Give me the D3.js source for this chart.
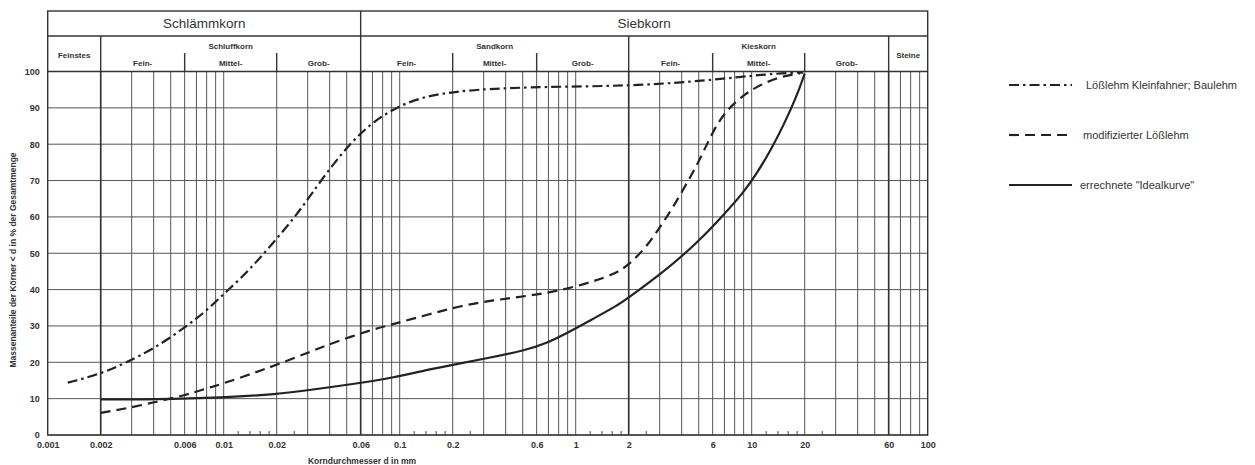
<!DOCTYPE html>
<html lang="de">
<head>
<meta charset="UTF-8" />
<script src="https://d3js.org/d3.v7.min.js"></script>
<style>
  body { margin: 0; background: #fff; }
  svg { display: block; font-family: "Liberation Sans", Arial, sans-serif; }
  .grid { stroke: #555; stroke-width: 1; }
  .frame { stroke: #333; stroke-width: 1.4; fill: none; }
  .hd { fill: #333; font-weight: bold; font-size: 8px; text-anchor: middle; }
  .tick text { fill: #333; font-weight: bold; font-size: 9px; }
  .curve { fill: none; stroke: #222; stroke-width: 2.2; }
</style>
</head>
<body>
<svg id="chart" width="1255" height="465"></svg>
<script>
// Kornverteilung: Durchmesser in mm, Durchgang in %
const lossD = [0.0013, 0.002, 0.00275, 0.004, 0.006, 0.008, 0.01, 0.0124, 0.0157, 0.0204, 0.026, 0.0316,
  0.0411, 0.0534, 0.0708, 0.098, 0.142, 0.206, 0.305, 0.652, 1.95, 4.63, 8.2, 13.9, 19.6];
const lossP = [14.4, 16.8, 19.8, 23.7, 29.5, 34.2, 38.8, 42.9, 48.1, 54.5, 60.6, 66.4,
  74.0, 80.7, 86.2, 90.5, 93.3, 94.4, 95.2, 95.8, 96.0, 97.2, 98.4, 99.5, 99.7];

const modD = [0.002, 0.0028, 0.0042, 0.0059, 0.008, 0.01, 0.0147, 0.02, 0.031, 0.04, 0.068, 0.092, 0.142,
  0.22, 0.34, 0.527, 0.815, 1.26, 1.7, 2.0, 2.5, 3.0, 3.59, 4.27, 5.08, 6.05, 7.21, 8.96, 11.1, 14.5, 18.8];
const modP = [6.1, 7.3, 9.2, 10.8, 12.8, 14.2, 17.0, 19.3, 22.9, 25.0, 28.9, 30.5, 33.0,
  35.5, 37.1, 38.2, 39.7, 42.2, 44.5, 46.8, 51.5, 57.0, 62.8, 69.2, 75.7, 83.9, 89.4, 93.5, 96.3, 98.6, 99.5];

const idealD = [0.002, 0.004, 0.01, 0.02, 0.031, 0.06, 0.092, 0.142, 0.2, 0.313, 0.527, 0.68, 0.89, 1.26,
  1.68, 2.0, 3.15, 4.09, 5.31, 6.9, 8.96, 10.67, 12.7, 15.1, 18, 20];
const idealP = [9.8, 9.8, 10.3, 11.2, 12.4, 14.3, 15.8, 17.9, 19.3, 21.1, 23.4, 25.2, 28.0, 32.0,
  35.3, 37.8, 44.9, 49.5, 54.6, 60.5, 66.6, 71.9, 78.0, 85.0, 93.1, 99.4];

const seriesNames = ["Lößlehm Kleinfahner; Baulehm", "modifizierter Lößlehm", 'errechnete "Idealkurve"'];
const seriesDash = ["10,4,2.5,4", "10,6", null];

const xTickLabels = [0.001, 0.002, 0.006, 0.01, 0.02, 0.06, 0.1, 0.2, 0.6, 1, 2, 6, 10, 20, 60, 100];
const yTicks = [0, 10, 20, 30, 40, 50, 60, 70, 80, 90, 100];
const smallTicks = [0.012, 0.014, 0.016, 0.018, 0.025, 0.12, 0.14, 0.16, 0.18, 0.25,
  1.2, 1.4, 1.6, 1.8, 2.5, 12, 14, 16, 18, 25];

// Kopfzeile: Gruppen und Untergruppen (Grenzen in mm)
const topGroups = [["Schlämmkorn", 0.001, 0.06], ["Siebkorn", 0.06, 100]];
const midGroups = [["Feinstes", 0.001, 0.002], ["Schluffkorn", 0.002, 0.06], ["Sandkorn", 0.06, 2],
  ["Kieskorn", 2, 60], ["Steine", 60, 100]];
const subGroups = [["Fein-", 0.002, 0.006], ["Mittel-", 0.006, 0.02], ["Grob-", 0.02, 0.06],
  ["Fein-", 0.06, 0.2], ["Mittel-", 0.2, 0.6], ["Grob-", 0.6, 2],
  ["Fein-", 2, 6], ["Mittel-", 6, 20], ["Grob-", 20, 60]];

const svg = d3.select("#chart");
const x = d3.scaleLog().domain([0.001, 100]).range([47.7, 927.7]);
const y = d3.scaleLinear().domain([0, 100]).range([435, 71.5]);
const headTop = 11, headMid = 36, headSub = 53;

// vertikale Gitterlinien 1..9 je Dekade
const gridX = [];
for (let e = -3; e <= 1; e++) {
  for (let k = 1; k <= 9; k++) gridX.push(k * Math.pow(10, e));
}
gridX.push(100);

svg.append("g").selectAll("line")
  .data(gridX.filter(d => d > 0.0011 && d < 99))
  .join("line").attr("class", "grid")
  .attr("x1", d => x(d)).attr("x2", d => x(d))
  .attr("y1", y(100)).attr("y2", y(0));

svg.append("g").selectAll("line")
  .data(yTicks)
  .join("line").attr("class", "grid")
  .attr("x1", x(0.001)).attr("x2", x(100))
  .attr("y1", d => y(d)).attr("y2", d => y(d));

// Grenzen dicker
svg.append("g").selectAll("line")
  .data([0.002, 0.06, 2, 60])
  .join("line").attr("stroke", "#333").attr("stroke-width", 1.6)
  .attr("x1", d => x(d)).attr("x2", d => x(d))
  .attr("y1", y(100)).attr("y2", y(0));

// kleine Striche an der x-Achse
svg.append("g").attr("transform", `translate(0,${y(0)})`)
  .call(d3.axisBottom(x).tickValues(smallTicks).tickSize(-4).tickFormat(""))
  .call(g => g.select(".domain").remove())
  .call(g => g.selectAll(".tick line").attr("stroke", "#444"));

svg.append("g").attr("transform", `translate(0,${y(0)})`)
  .call(d3.axisBottom(x).tickValues(xTickLabels).tickSize(0).tickPadding(7).tickFormat(d => String(d)))
  .call(g => g.select(".domain").remove());

svg.append("g").attr("transform", `translate(${x(0.001)},0)`)
  .call(d3.axisLeft(y).tickValues(yTicks).tickSize(0).tickPadding(8))
  .call(g => g.select(".domain").remove());

// Kopf
const head = svg.append("g");
head.append("rect").attr("class", "frame")
  .attr("x", x(0.001)).attr("y", headTop)
  .attr("width", x(100) - x(0.001)).attr("height", y(0) - headTop);
head.append("line").attr("class", "frame")
  .attr("x1", x(0.001)).attr("x2", x(100)).attr("y1", headMid).attr("y2", headMid);
head.append("line").attr("class", "frame")
  .attr("x1", x(0.001)).attr("x2", x(100)).attr("y1", y(100)).attr("y2", y(100));
head.append("line").attr("class", "frame")
  .attr("x1", x(0.06)).attr("x2", x(0.06)).attr("y1", headTop).attr("y2", headMid);
head.selectAll("line.mid")
  .data([0.002, 0.06, 2, 60])
  .join("line").attr("class", "frame mid")
  .attr("x1", d => x(d)).attr("x2", d => x(d)).attr("y1", headMid).attr("y2", y(100));
head.selectAll("line.sub")
  .data([0.006, 0.02, 0.2, 0.6, 6, 20])
  .join("line").attr("class", "frame sub").attr("stroke-width", 1)
  .attr("x1", d => x(d)).attr("x2", d => x(d)).attr("y1", headSub).attr("y2", y(100));

head.selectAll("text.top")
  .data(topGroups)
  .join("text").attr("class", "top")
  .attr("x", d => (x(d[1]) + x(d[2])) / 2).attr("y", 28)
  .attr("text-anchor", "middle").attr("fill", "#333").attr("font-size", 13.5)
  .text(d => d[0]);

head.selectAll("text.mid")
  .data(midGroups)
  .join("text").attr("class", "hd mid")
  .attr("x", d => (x(d[1]) + x(d[2])) / 2)
  .attr("y", d => (d[0] === "Feinstes" || d[0] === "Steine") ? 57.5 : 48.5)
  .text(d => d[0]);

head.selectAll("text.sub")
  .data(subGroups)
  .join("text").attr("class", "hd sub")
  .attr("x", d => (x(d[1]) + x(d[2])) / 2).attr("y", 66)
  .text(d => d[0]);

// Kurven
const line = d3.line().curve(d3.curveBasis);
const series = [[lossD, lossP], [modD, modP], [idealD, idealP]];
svg.append("g").selectAll("path")
  .data(series)
  .join("path").attr("class", "curve")
  .attr("stroke-dasharray", (d, i) => seriesDash[i])
  .attr("d", d => line(d[0].map((v, j) => [x(v), y(d[1][j])])));

// Achsentitel
svg.append("text")
  .attr("x", 362).attr("y", 463.5).attr("text-anchor", "middle")
  .attr("font-size", 8.5).attr("font-weight", "bold").attr("fill", "#333")
  .text("Korndurchmesser d in mm");
svg.append("text")
  .attr("transform", "translate(16,260) rotate(-90)").attr("text-anchor", "middle")
  .attr("font-size", 8.5).attr("font-weight", "bold").attr("fill", "#333")
  .text("Massenanteile der Körner < d in % der Gesamtmenge");

// Legende
const legend = svg.append("g").attr("transform", "translate(1009,85)");
seriesNames.forEach((name, i) => {
  const row = legend.append("g").attr("transform", `translate(0,${i * 50})`);
  row.append("line").attr("class", "curve")
    .attr("x1", 0).attr("x2", 63).attr("stroke-width", 2.4)
    .attr("stroke-dasharray", seriesDash[i]);
  row.append("text").attr("x", 77 - i * 3).attr("y", 4)
    .attr("font-size", 11).attr("fill", "#333").text(name);
});
</script>
</body>
</html>
